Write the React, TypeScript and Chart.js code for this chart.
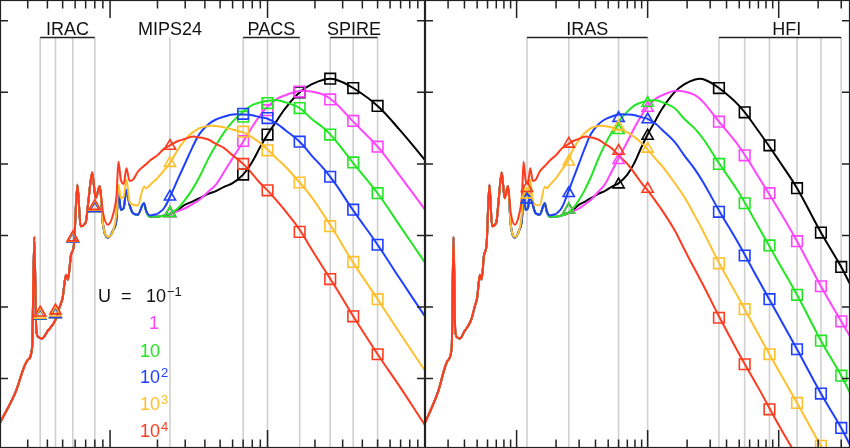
import { useEffect, useRef } from 'react'
import { Chart, registerables } from 'chart.js'

Chart.register(...registerables)

// shared short-wavelength (PAH) part of every spectrum: wavelength in micron, log10 of emission per unit U
const pahWave = [2, 2.5, 3.0, 3.2, 3.3, 3.4, 3.5, 3.7, 4.0, 4.5, 4.8, 5.0, 5.25, 5.4, 5.65, 5.9, 6.2, 6.5, 7.0, 7.3, 7.7, 8.1, 8.6]
const pahLog = [-5.62, -5.2, -4.74, -4.56, -3.02, -4.32, -4.42, -4.44, -4.34, -4.18, -3.99, -3.87, -3.55, -3.62, -3.27, -3.13, -2.29, -2.87, -2.82, -2.5, -2.12, -2.48, -2.31]

// longer wavelengths, where the models split up by starlight intensity U
const contWave = [9, 9.7, 10.5, 11.0, 11.3, 11.7, 12.2, 12.7, 13.3, 14, 15, 16.4, 17, 18, 20, 22, 24, 27, 30, 33, 37, 42, 47, 53, 60, 70, 80, 90, 100, 115, 130, 160, 190, 230, 270, 350, 500, 700, 1000, 1380, 2100, 3000, 3500]
const logU1e4 = [-2.67, -2.85, -2.69, -2.43, -1.97, -2.22, -2.28, -2.06, -2.24, -2.22, -2.11, -2.03, -2.0, -1.95, -1.88, -1.79, -1.74, -1.68, -1.65, -1.62, -1.63, -1.66, -1.72, -1.78, -1.88, -2.0, -2.14, -2.27, -2.37, -2.52, -2.66, -2.92, -3.19, -3.48, -3.72, -4.13, -4.66, -5.13, -5.65, -6.09, null, null, null]
const logU1e3 = [-2.83, -3.02, -2.92, -2.67, -2.29, -2.48, -2.46, -2.22, -2.53, -2.57, -2.58, -2.32, -2.34, -2.29, -2.2, -2.09, -1.99, -1.8, -1.66, -1.57, -1.5, -1.47, -1.47, -1.49, -1.52, -1.56, -1.63, -1.71, -1.8, -1.93, -2.04, -2.26, -2.46, -2.73, -2.97, -3.38, -3.89, -4.38, -4.89, -5.34, -5.94, -6.42, null]
const logU100 = [-2.83, -3.03, -2.92, -2.76, -2.36, -2.64, -2.62, -2.36, -2.57, -2.69, -2.71, -2.55, -2.66, -2.72, -2.7, -2.62, -2.46, -2.21, -1.99, -1.79, -1.58, -1.45, -1.38, -1.34, -1.31, -1.31, -1.32, -1.35, -1.37, -1.44, -1.53, -1.69, -1.88, -2.08, -2.28, -2.65, -3.13, -3.62, -4.13, -4.59, -5.21, -5.69, -5.93]
const logU10 = [-2.83, -3.03, -2.92, -2.76, -2.36, -2.64, -2.62, -2.36, -2.57, -2.69, -2.71, -2.55, -2.67, -2.74, -2.74, -2.72, -2.7, -2.62, -2.5, -2.37, -2.18, -1.93, -1.74, -1.56, -1.41, -1.27, -1.18, -1.14, -1.12, -1.11, -1.14, -1.22, -1.37, -1.51, -1.67, -1.99, -2.41, -2.88, -3.38, -3.83, -4.47, -4.96, -5.2]
const logU1 = [-2.83, -3.03, -2.92, -2.76, -2.36, -2.64, -2.62, -2.36, -2.57, -2.69, -2.71, -2.55, -2.67, -2.74, -2.74, -2.72, -2.7, -2.66, -2.62, -2.57, -2.5, -2.39, -2.29, -2.11, -1.92, -1.69, -1.48, -1.32, -1.2, -1.09, -1.04, -0.98, -0.99, -1.04, -1.15, -1.41, -1.76, -2.18, -2.64, -3.08, -3.71, -4.2, -4.41]
const logU01 = [-2.83, -3.03, -2.92, -2.76, -2.36, -2.64, -2.62, -2.36, -2.57, -2.69, -2.71, -2.55, -2.67, -2.74, -2.74, -2.72, -2.7, -2.64, -2.57, -2.53, -2.48, -2.42, -2.38, -2.32, -2.27, -2.15, -1.97, -1.76, -1.59, -1.39, -1.22, -1.0, -0.89, -0.82, -0.82, -0.94, -1.19, -1.54, -1.95, -2.34, -2.96, -3.44, -3.68]

// band-averaged points, left panel: IRAC, MIPS24, PACS, SPIRE
const leftBands = [3.6, 4.5, 5.8, 8.0, 24, 70, 100, 160, 250, 350, 500]
const leftShapes = ['triangle', 'triangle', 'triangle', 'triangle', 'triangle', 'rect', 'rect', 'rect', 'rect', 'rect', 'rect']
const leftU1e4 = [-4.08, -4.05, -3.03, -2.59, -1.75, -2.0, -2.37, -2.95, -3.61, -4.13, -4.66]
const leftU1e3 = [-4.11, -4.08, -3.04, -2.6, -1.99, -1.55, -1.81, -2.26, -2.87, -3.37, -3.89]
const leftU100 = [-4.12, -4.1, -3.05, -2.62, -2.46, -1.3, -1.36, -1.69, -2.18, -2.64, -3.13]
const leftU10 = [-4.12, -4.1, -3.05, -2.62, -2.69, -1.34, -1.15, -1.22, -1.59, -1.98, -2.41]
const leftU1 = [-4.12, -4.1, -3.05, -2.62, -2.69, -1.68, -1.25, -0.99, -1.1, -1.4, -1.76]
const leftU01 = [-4.12, -4.1, -3.05, -2.62, -2.69, -2.15, -1.59, -1.0, -0.81, -0.94, -1.19]

// band-averaged points, right panel: IRAS, HFI
const rightBands = [12, 25, 60, 100, 350, 550, 850, 1380, 2100, 3000]
const rightShapes = ['triangle', 'triangle', 'triangle', 'triangle', 'rect', 'rect', 'rect', 'rect', 'rect', 'rect']
const rightU1e4 = [-2.34, -1.72, -1.82, -2.35, -4.15, -4.8, -5.43, null, null, null]
const rightU1e3 = [-2.43, -1.97, -1.48, -1.79, -3.39, -4.03, -4.66, -5.34, -5.94, null]
const rightU100 = [-2.5, -2.41, -1.36, -1.38, -2.67, -3.28, -3.89, -4.59, -5.21, -5.69]
const rightU10 = [-2.5, -2.64, -1.53, -1.15, -2.0, -2.55, -3.14, -3.83, -4.47, -4.96]
const rightU1 = [-2.5, -2.64, -1.95, -1.22, -1.41, -1.88, -2.41, -3.08, -3.71, -4.2]
const rightU01 = [-2.5, -2.64, -2.29, -1.61, -0.94, -1.28, -1.74, -2.34, -2.96, -3.44]

// red first so it is drawn on top
const series = [
  { color: '#ff3b1f', curve: logU1e4, left: leftU1e4, right: rightU1e4 },
  { color: '#ffc02c', curve: logU1e3, left: leftU1e3, right: rightU1e3 },
  { color: '#1f3fff', curve: logU100, left: leftU100, right: rightU100 },
  { color: '#22e622', curve: logU10, left: leftU10, right: rightU10 },
  { color: '#ff44ff', curve: logU1, left: leftU1, right: rightU1 },
  { color: '#000000', curve: logU01, left: leftU01, right: rightU01 },
]

interface BandGroup {
  label: string
  waves: number[]
  labelAt?: number
}

const leftGroups: BandGroup[] = [
  { label: 'IRAC', waves: [3.6, 4.5, 5.8, 8.0] },
  { label: 'MIPS24', waves: [24] },
  { label: 'PACS', waves: [70, 100, 160] },
  { label: 'SPIRE', waves: [250, 350, 500] },
]
const rightGroups: BandGroup[] = [
  { label: 'IRAS', waves: [12, 25, 60, 100] },
  { label: 'HFI', waves: [350, 550, 850, 1380, 2100, 3000], labelAt: 1150 },
]

// feature-rich part is drawn with monotone joins, the smooth thermal hump with a looser spline
const SPLIT = contWave.indexOf(20)
const BAR_Y = 37.5
const FONT = '"Liberation Sans", Arial, sans-serif'

function makeDecor(groups: BandGroup[]) {
  return {
    id: 'decor',
    beforeDatasetsDraw(chart: any) {
      const { ctx, chartArea: a } = chart
      const xs = chart.scales.x
      ctx.save()
      ctx.strokeStyle = '#d0d0d0'
      ctx.lineWidth = 1.6
      groups.forEach(g => g.waves.forEach(w => {
        const px = xs.getPixelForValue(w)
        ctx.beginPath()
        ctx.moveTo(px, a.top + BAR_Y)
        ctx.lineTo(px, a.bottom)
        ctx.stroke()
      }))
      ctx.restore()
    },
    afterDraw(chart: any) {
      const { ctx, chartArea: a } = chart
      const xs = chart.scales.x
      const ys = chart.scales.y
      ctx.save()
      ctx.strokeStyle = '#222'
      ctx.lineWidth = 1.2
      ctx.strokeRect(a.left + 0.5, a.top + 0.5, a.right - a.left - 1, a.bottom - a.top - 1)

      // inward ticks on the log wavelength axis, top and bottom
      ctx.lineWidth = 1.5
      for (let dec = 1; dec <= 1000; dec *= 10) {
        for (let k = 1; k <= 9; k++) {
          const w = dec * k
          if (w <= xs.min || w >= xs.max) continue
          const px = xs.getPixelForValue(w)
          const len = k === 1 ? 18 : 8.5
          ctx.beginPath()
          ctx.moveTo(px, a.top)
          ctx.lineTo(px, a.top + len)
          ctx.moveTo(px, a.bottom)
          ctx.lineTo(px, a.bottom - len)
          ctx.stroke()
        }
      }
      // decades on the flux axis, left and right
      for (let v = Math.ceil(ys.min); v <= ys.max; v++) {
        const py = ys.getPixelForValue(v)
        ctx.beginPath()
        ctx.moveTo(a.left, py)
        ctx.lineTo(a.left + 8, py)
        ctx.moveTo(a.right, py)
        ctx.lineTo(a.right - 8, py)
        ctx.stroke()
      }

      // band bars and names
      ctx.fillStyle = '#111'
      ctx.font = `18px ${FONT}`
      ctx.textAlign = 'center'
      ctx.textBaseline = 'alphabetic'
      groups.forEach(g => {
        const x0 = xs.getPixelForValue(g.waves[0])
        const x1 = xs.getPixelForValue(g.waves[g.waves.length - 1])
        if (g.waves.length > 1) {
          ctx.beginPath()
          ctx.moveTo(x0, a.top + BAR_Y)
          ctx.lineTo(x1, a.top + BAR_Y)
          ctx.stroke()
        }
        const cx = g.labelAt ? xs.getPixelForValue(g.labelAt) : (x0 + x1) / 2
        ctx.fillText(g.label, cx, a.top + 35)
      })
      ctx.restore()
    },
  }
}

interface PanelProps {
  maxWave: number
  bands: number[]
  shapes: string[]
  side: 'left' | 'right'
  groups: BandGroup[]
}

function SedPanel({ maxWave, bands, shapes, side, groups }: PanelProps) {
  const canvasRef = useRef<HTMLCanvasElement>(null)

  useEffect(() => {
    if (!canvasRef.current) return

    const markerSets = series.map(s => ({
      data: bands.map((w, i) => ({ x: w, y: s[side][i] })),
      showLine: false,
      pointStyle: shapes,
      pointRadius: shapes.map(p => (p === 'triangle' ? 6.5 : 7.5)),
      pointBorderColor: s.color,
      pointBackgroundColor: 'rgba(0,0,0,0)',
      pointBorderWidth: 1.6,
    }))
    const lineStyle = { showLine: true, borderWidth: 2, pointRadius: 0, fill: false }
    const curveSets = series.flatMap(s => [
      {
        ...lineStyle,
        borderColor: s.color,
        cubicInterpolationMode: 'monotone',
        data: [
          ...pahWave.map((w, i) => ({ x: w, y: pahLog[i] })),
          ...contWave.slice(0, SPLIT + 1).map((w, i) => ({ x: w, y: s.curve[i] })),
        ],
      },
      {
        ...lineStyle,
        borderColor: s.color,
        tension: 0.4,
        data: contWave.slice(SPLIT).map((w, i) => ({ x: w, y: s.curve[SPLIT + i] })),
      },
    ])

    const chart = new Chart(canvasRef.current, {
      type: 'scatter',
      data: { datasets: [...markerSets, ...curveSets] as any },
      options: {
        responsive: true,
        maintainAspectRatio: false,
        animation: false,
        events: [],
        layout: { padding: 0, autoPadding: false },
        plugins: { legend: { display: false }, tooltip: { enabled: false } },
        scales: {
          x: { type: 'logarithmic', min: 2, max: maxWave, display: false },
          y: { type: 'linear', min: -5.97, max: 0.29, display: false },
        },
      },
      plugins: [makeDecor(groups)],
    })

    return () => {
      chart.destroy()
    }
  }, [maxWave, bands, shapes, side, groups])

  return <canvas ref={canvasRef}></canvas>
}

const legendRows = [
  { text: '1', sup: '', color: '#ff44ff', left: 149, top: 313.8 },
  { text: '10', sup: '', color: '#22e622', left: 140, top: 341.5 },
  { text: '10', sup: '2', color: '#1f3fff', left: 140, top: 367.8 },
  { text: '10', sup: '3', color: '#ffc02c', left: 140, top: 394.8 },
  { text: '10', sup: '4', color: '#ff3b1f', left: 140, top: 421.5 },
]

const textStyle = {
  position: 'absolute' as const,
  fontFamily: FONT,
  fontSize: 18,
  lineHeight: '18px',
  whiteSpace: 'nowrap' as const,
}
const supStyle = { fontSize: 13, position: 'relative' as const, top: -6, marginLeft: 1 }

export default function App() {
  return (
    <div style={{ position: 'absolute', left: 0, top: 0, width: 850, height: 448, background: '#fff' }}>
      <div style={{ position: 'absolute', left: 0, top: 0, width: 425, height: 448 }}>
        <SedPanel maxWave={1000} bands={leftBands} shapes={leftShapes} side="left" groups={leftGroups} />
      </div>
      <div style={{ position: 'absolute', left: 425, top: 0, width: 425, height: 448 }}>
        <SedPanel maxWave={3500} bands={rightBands} shapes={rightShapes} side="right" groups={rightGroups} />
      </div>

      <div style={{ ...textStyle, left: 98, top: 286.8, color: '#111' }}>U</div>
      <div style={{ ...textStyle, left: 121, top: 286.8, color: '#111' }}>=</div>
      <div style={{ ...textStyle, left: 146, top: 286.8, color: '#111' }}>
        10<span style={supStyle}>−1</span>
      </div>
      {legendRows.map(r => (
        <div key={r.top} style={{ ...textStyle, left: r.left, top: r.top, color: r.color }}>
          {r.text}
          {r.sup && <span style={supStyle}>{r.sup}</span>}
        </div>
      ))}
    </div>
  )
}
